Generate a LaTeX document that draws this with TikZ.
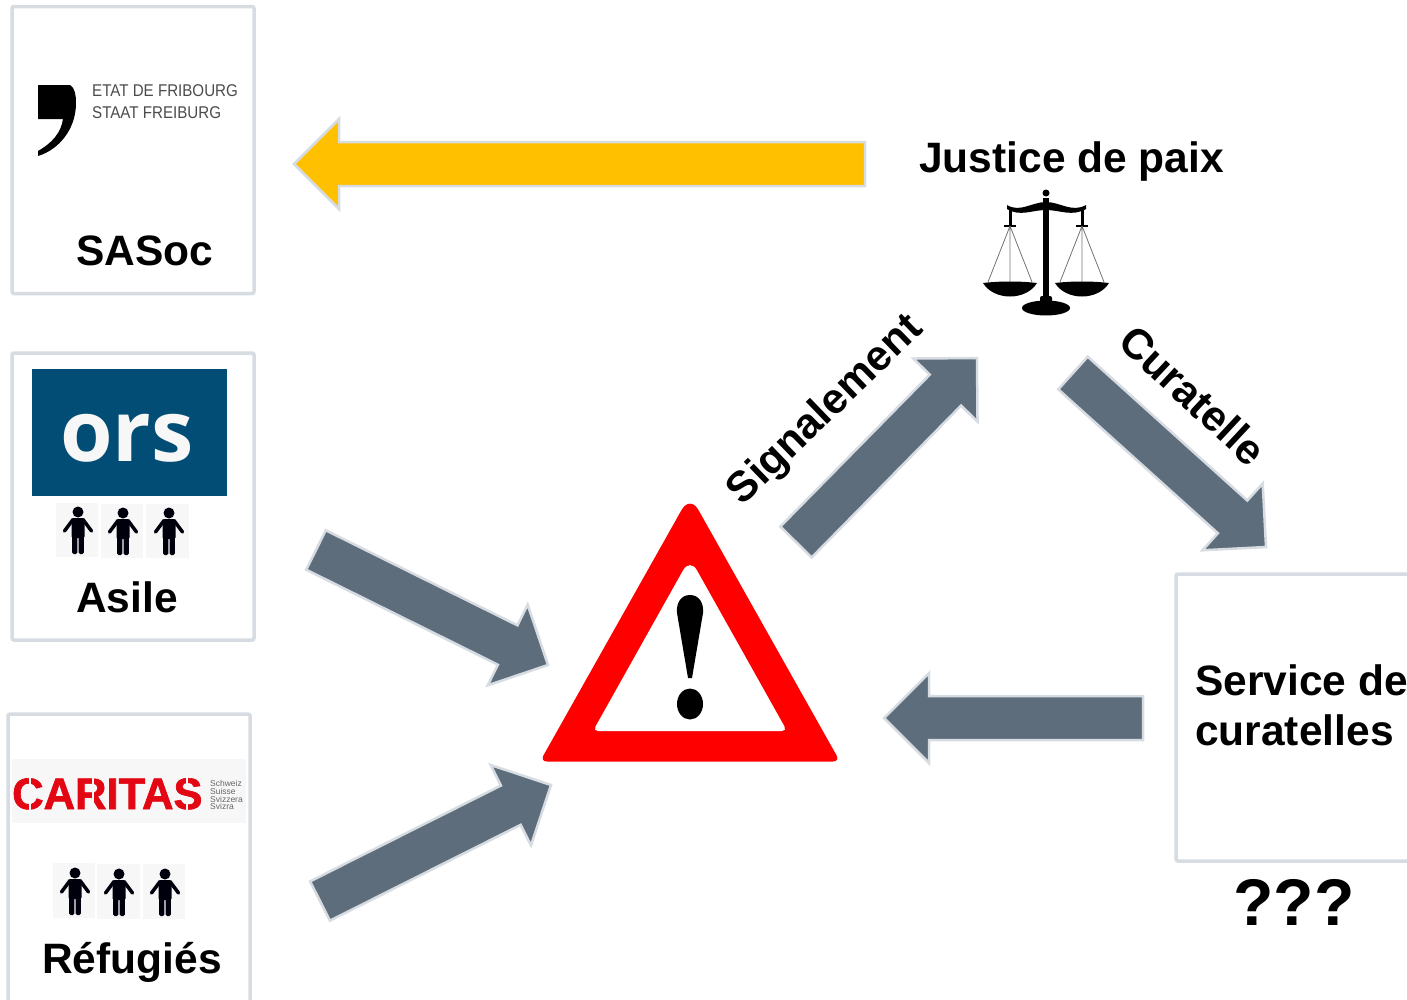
\documentclass[tikz,border=0pt]{standalone}
\usepackage{fontspec}
\setmainfont{Liberation Sans}
\newfontfamily\orsfont{Open Sans}
\usetikzlibrary{positioning,calc}
\definecolor{boxedge}{HTML}{D6DCE1}
\definecolor{slate}{HTML}{5E6D7B}
\definecolor{sunny}{HTML}{FFC000}
\definecolor{orsblue}{HTML}{024D76}
\definecolor{logopale}{HTML}{F7F7F7}
\definecolor{caritasred}{HTML}{E30613}
\tikzset{
    orgbox/.style={draw=boxedge, line width=3.5pt, fill=white, rounded corners=2pt, inner sep=0pt, outer sep=0pt, anchor=north west, minimum width=242pt, minimum height=287pt},
    arrowedge/.style={draw=boxedge, line width=2.5pt},
    title/.style={font=\bfseries\fontsize{42.5}{48}\selectfont, inner sep=0pt, anchor=base west},
    slanted/.style={font=\bfseries\fontsize{42.5}{48}\selectfont, inner sep=0pt},
    pale/.style={fill=logopale, inner sep=0pt, anchor=north west},
    logotext/.style={font=\fontsize{17}{20}\selectfont, text=black!70, inner sep=0pt, anchor=base west, xscale=0.89},
    person/.pic={
        \fill[black!95!blue] (0,0) circle (5.5);
        \fill[black!95!blue, rounded corners=1.5] (-6.5,6) rectangle (6.5,26);
        \fill[black!95!blue, rounded corners=1.5] (-5.8,20) rectangle (-0.6,42);
        \fill[black!95!blue, rounded corners=1.5] (0.6,20) rectangle (5.8,42);
        \draw[black!95!blue, line width=3.5pt, line cap=round] (-5,7.5) -- (-13.5,19);
        \draw[black!95!blue, line width=3.5pt, line cap=round] (5,7.5) -- (13.5,19);
    }
}
% block arrow from tail to tip
\newcommand{\blockarrow}[3][slate]{%
    \coordinate (neck) at ($(#3)!45pt!(#2)$);
    \draw[arrowedge, fill=#1] ($(#2)!22pt!90:(#3)$) -- ($(neck)!22pt!90:(#3)$) -- ($(neck)!45pt!90:(#3)$) -- (#3)
        -- ($(neck)!45pt!-90:(#3)$) -- ($(neck)!22pt!-90:(#3)$) -- ($(#2)!22pt!-90:(#3)$) -- cycle;}

\begin{document}
\begin{tikzpicture}[x=1pt, y=-1pt]
    \useasboundingbox (0,0) rectangle (1407,999);
    \clip (0,0) rectangle (1407,999);
    % Boxes
    \node[orgbox] (sasocbox) at (12,6.5) {};
    \node[orgbox] (asilebox) at (12,353) {};
    \node[orgbox, minimum height=320pt] (refugiesbox) at (8,714) {};
    \node[orgbox, minimum width=300pt] (servicebox) at (1176,574) {};
    % Fribourg logo
    \fill (38,85) -- (70,85) .. controls (75,88) and (76,95) .. (76,103)
        .. controls (76,130) and (58,150) .. (38,156) -- (38,151)
        .. controls (52,143) and (61,133) .. (63,119) -- (38,119) -- cycle;
    \node[logotext] (etat) at (92,96) {ETAT DE FRIBOURG};
    \node[logotext] (staat) at (92,118) {STAAT FREIBURG};
    \node[title] (sasoc) at (76,265) {SASoc};
    % ORS logo
    \node[fill=orsblue, inner sep=0pt, anchor=north west, minimum width=195pt, minimum height=127pt] (orslogo) at (32,369) {};
    \node[font=\orsfont\bfseries\fontsize{85}{90}\selectfont, text=white!97!black, inner sep=0pt] (orsname) at (127,438) {ors};
    \foreach \px/\py/\hx/\hy/\pw in {56/503/78/512/42, 101/504/123/513/42, 146/504/169/513/43}
        {\node[pale, minimum width=\pw pt, minimum height=54pt] at (\px,\py) {};
         \pic at (\hx,\hy) {person};}
    \node[title] (asile) at (76,612) {Asile};
    % Caritas logo
    \node[pale, minimum width=234pt, minimum height=64pt] (caritaslogo) at (12,759) {};
    \node[font=\bfseries\fontsize{44}{48}\selectfont\addfontfeature{FakeBold=1.5}, text=caritasred, inner sep=0pt, anchor=base west, xscale=0.99] (caritas) at (12,809) {CARITAS};
    % stencil cuts
    \draw[logopale, line width=1.5pt] (30,777) -- (30,785) (30,802) -- (30,811) (93,777) -- (93,811) (187,777) -- (187,786) (187,802) -- (187,811);
    \foreach \ty/\lang in {786/Schweiz, 794/Suisse, 802/Svizzera, 809/Svizra}
        \node[font=\fontsize{8.5}{9}\selectfont, text=black!60, inner sep=0pt, anchor=base west] at (210,\ty) {\lang};
    \foreach \px/\py/\hx/\hy/\pw in {53/863/75/873/42, 97/864/119/874/43, 143/864/165/874/42}
        {\node[pale, minimum width=\pw pt, minimum height=55pt] at (\px,\py) {};
         \pic at (\hx,\hy) {person};}
    \node[title] (refugies) at (42,973) {Réfugiés};
    % Justice de paix and scales
    \node[title] (justice) at (919,172) {Justice de paix};
    \fill (1046,193) circle (3.5);
    \fill (1043,198) rectangle (1049,298);
    \fill (1007,205) .. controls (1020,213) and (1032,202) .. (1046,202) .. controls (1060,202) and (1072,213) .. (1086,205)
        -- (1086,209) .. controls (1072,217) and (1060,210) .. (1046,210) .. controls (1032,210) and (1020,217) .. (1007,209) -- cycle;
    \fill (1046,308) ellipse (24 and 7.5);
    \fill[rounded corners=2] (1040,296) rectangle (1052,303);
    \foreach \sx in {1010,1082} {
        \draw[line width=3pt] (\sx,207) -- (\sx,226);
        \draw[line width=1.5pt] (\sx-6,226) -- (\sx+6,226);
        \draw[black!55, line width=0.8pt] (\sx,226) -- (\sx-22,282) (\sx,226) -- (\sx,282) (\sx,226) -- (\sx+22,282);
        \fill (\sx-27,283) .. controls (\sx-16,301) and (\sx+16,301) .. (\sx+27,283)
            .. controls (\sx+10,281) and (\sx-10,281) .. (\sx-27,283) -- cycle;
    }
    % Warning triangle
    \fill[red, rounded corners=7pt] (690,761.5) -- (540,761.5) [rounded corners=17pt] -- (690,495) [rounded corners=7pt] -- (840,761.5) -- cycle;
    \fill[white, rounded corners=5pt] (690,731) -- (593,731) [rounded corners=14pt] -- (690,558) [rounded corners=5pt] -- (787,731) -- cycle;
    \fill (690,595) .. controls (681,595) and (676,603) .. (677,613) -- (688,678) -- (692,678) -- (703,613)
        .. controls (704,603) and (699,595) .. (690,595) -- cycle;
    \fill (690,704) ellipse (13 and 15.5);
    % Service de curatelles
    \node[title] (service) at (1195,695) {Service de};
    \node[title] (curatelles) at (1195,745) {curatelles};
    \node[font=\bfseries\fontsize{66}{70}\selectfont, inner sep=0pt, anchor=base] (unknown) at (1294,925) {???};
    % Arrow ends
    \coordinate (justicetail) at (865,164);
    \coordinate (sasoctip) at (294,164);
    \coordinate (asiletail) at (316,550);
    \coordinate (asiletip) at (548,665);
    \coordinate (refugiestail) at (320,901);
    \coordinate (refugiestip) at (551,785);
    \coordinate (signaltail) at (796,542);
    \coordinate (signaltip) at (977,358);
    \coordinate (curatail) at (1073,373);
    \coordinate (curatip) at (1266,547);
    \coordinate (servicetail) at (1143,718);
    \coordinate (servicetip) at (884,718);
    % Arrows
    \blockarrow[sunny]{justicetail}{sasoctip}
    \blockarrow{asiletail}{asiletip}
    \blockarrow{refugiestail}{refugiestip}
    \blockarrow{signaltail}{signaltip}
    \blockarrow{curatail}{curatip}
    \blockarrow{servicetail}{servicetip}
    % Arrow labels
    \node[slanted, rotate=44] (signalement) at (826,411) {Signalement};
    \node[slanted, rotate=-43] (curatelle) at (1193,395) {Curatelle};
\end{tikzpicture}
\end{document}
